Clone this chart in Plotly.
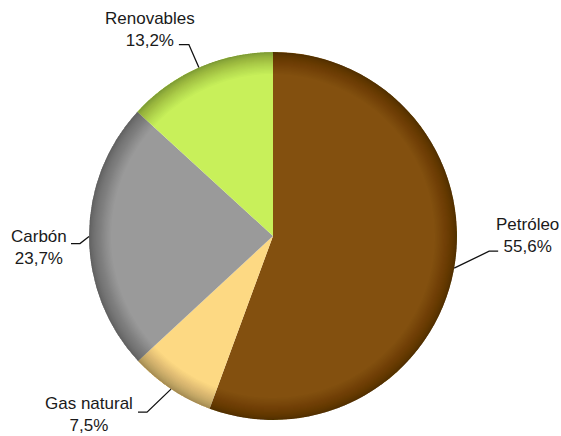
import numpy as np
import plotly.graph_objects as go

# Energy mix shares (%)
fuentes = ["Petróleo", "Gas natural", "Carbón", "Renovables"]
porcentajes = [55.6, 7.5, 23.7, 13.2]
colores = ["#83500f", "#fdd983", "#9a9a9a", "#c8f05a"]

W, H = 561, 436
CX, CY, R = 273, 236, 184  # pie centre and radius in pixels

# leader geometry per label (pixels): elbow offset from the rim, horizontal run, text offset from line end
elbow = [(35, -17), (-24, 23), (-9, 7), (-10, -23)]
run = [9, -9, -9, -10]
text_off = [(29, -16), (-49, 2), (-32, 4), (-29, -15)]


def px(x, y):
    return x / W, 1 - y / H


dom_x = [(CX - R) / W, (CX + R) / W]
dom_y = [1 - (CY + R) / H, 1 - (CY - R) / H]

fig = go.Figure()
fig.add_trace(go.Pie(
    labels=fuentes, values=porcentajes, sort=False, direction="clockwise",
    marker=dict(colors=colores, line=dict(width=0)),
    textinfo="none", hoverinfo="label+percent", showlegend=False,
    domain=dict(x=dom_x, y=dom_y),
))

# shading toward the rim: thin translucent rings, packed closer near the edge
t = np.linspace(0.0, 1.0, 28, endpoint=False)
for h in 1 - 0.12 * (1 - t) ** 1.8:
    fig.add_trace(go.Pie(
        values=[1], hole=float(h), sort=False, textinfo="none", hoverinfo="skip",
        marker=dict(colors=["rgba(0,0,0,0.016)"], line=dict(width=0)),
        showlegend=False, domain=dict(x=dom_x, y=dom_y),
    ))

shapes, annotations = [], []
total = sum(porcentajes)
acc = 0.0
for i, (name, val) in enumerate(zip(fuentes, porcentajes)):
    mid = (acc + val / 2) / total * 2 * np.pi
    acc += val
    ex, ey = CX + R * np.sin(mid), CY - R * np.cos(mid)
    bx, by = ex + elbow[i][0], ey + elbow[i][1]
    tx, ty = bx + run[i], by
    p0, p1, p2 = px(ex, ey), px(bx, by), px(tx, ty)
    shapes.append(dict(
        type="path", xref="paper", yref="paper",
        path=f"M {p0[0]},{p0[1]} L {p1[0]},{p1[1]} L {p2[0]},{p2[1]}",
        line=dict(color="#111111", width=1.3),
    ))
    lx, ly = px(tx + text_off[i][0], ty + text_off[i][1])
    label = f"{name}<br>{val:.1f}%".replace(".", ",")
    annotations.append(dict(
        x=lx, y=ly, xref="paper", yref="paper", text=label, showarrow=False,
        xanchor="center", yanchor="middle", align="center",
        font=dict(family="Liberation Sans, Arial, sans-serif", size=17, color="#1a1a1a"),
    ))

fig.update_layout(
    width=W, height=H, margin=dict(l=0, r=0, t=0, b=0),
    paper_bgcolor="white", plot_bgcolor="white",
    shapes=shapes, annotations=annotations,
)

fig.write_html("out.html")
